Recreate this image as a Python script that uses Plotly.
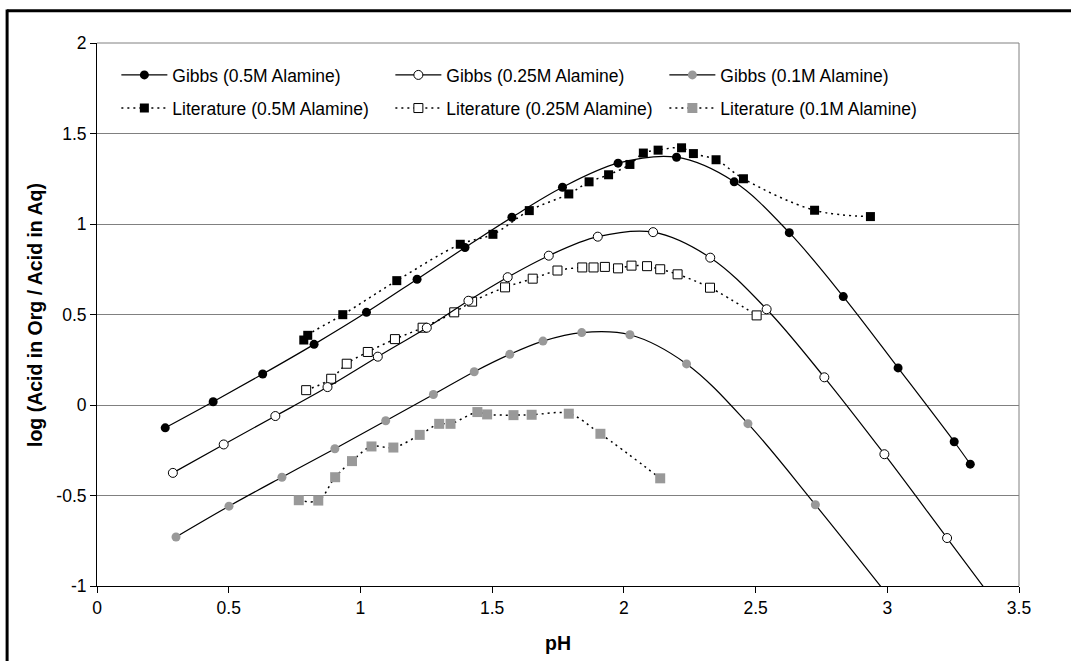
import plotly.graph_objects as go

# ---- data ----
gibbs_05_x = [0.259, 0.441, 0.629, 0.824, 1.023, 1.215, 1.397, 1.575, 1.767, 1.978, 2.200, 2.419, 2.628, 2.833, 3.041, 3.254, 3.315]
gibbs_05_y = [-0.126, 0.018, 0.171, 0.335, 0.512, 0.695, 0.870, 1.037, 1.203, 1.336, 1.369, 1.233, 0.952, 0.599, 0.205, -0.203, -0.327]

gibbs_025_x = [0.288, 0.481, 0.677, 0.875, 1.066, 1.252, 1.410, 1.559, 1.715, 1.901, 2.111, 2.328, 2.542, 2.761, 2.989, 3.227, 3.45]
gibbs_025_y = [-0.375, -0.218, -0.061, 0.099, 0.267, 0.427, 0.576, 0.706, 0.825, 0.930, 0.955, 0.814, 0.529, 0.153, -0.272, -0.735, -1.17]

gibbs_01_x = [0.300, 0.501, 0.702, 0.903, 1.096, 1.277, 1.432, 1.567, 1.693, 1.840, 2.023, 2.238, 2.471, 2.727, 3.05]
gibbs_01_y = [-0.729, -0.559, -0.399, -0.242, -0.087, 0.058, 0.184, 0.280, 0.353, 0.400, 0.388, 0.227, -0.103, -0.551, -1.14]

lit_05_x = [0.785, 0.800, 0.933, 1.138, 1.379, 1.503, 1.641, 1.791, 1.868, 1.942, 2.023, 2.074, 2.130, 2.219, 2.264, 2.350, 2.454, 2.724, 2.936]
lit_05_y = [0.359, 0.385, 0.499, 0.687, 0.888, 0.943, 1.074, 1.166, 1.233, 1.272, 1.329, 1.392, 1.408, 1.421, 1.389, 1.355, 1.250, 1.076, 1.041]

lit_025_x = [0.794, 0.889, 0.948, 1.028, 1.131, 1.236, 1.356, 1.424, 1.549, 1.654, 1.748, 1.842, 1.885, 1.928, 1.978, 2.029, 2.088, 2.138, 2.204, 2.327, 2.504]
lit_025_y = [0.082, 0.145, 0.228, 0.293, 0.364, 0.427, 0.512, 0.571, 0.650, 0.698, 0.743, 0.760, 0.760, 0.763, 0.755, 0.770, 0.767, 0.750, 0.722, 0.648, 0.495]

lit_01_x = [0.766, 0.840, 0.904, 0.968, 1.042, 1.125, 1.225, 1.299, 1.342, 1.444, 1.481, 1.581, 1.650, 1.791, 1.911, 2.138]
lit_01_y = [-0.526, -0.528, -0.399, -0.310, -0.229, -0.235, -0.165, -0.104, -0.104, -0.039, -0.052, -0.056, -0.054, -0.048, -0.159, -0.405]

x_ticks = [0, 0.5, 1, 1.5, 2, 2.5, 3, 3.5]
x_ticktext = ["0", "0.5", "1", "1.5", "2", "2.5", "3", "3.5"]
y_ticks = [-1, -0.5, 0, 0.5, 1, 1.5, 2]
y_ticktext = ["-1", "-0.5", "0", "0.5", "1", "1.5", "2"]

FONT = "Liberation Sans, Arial, sans-serif"
GRAY = "#999999"
GRID = "#808080"
FS = 17.5

fig = go.Figure()

def lit(x, y, name, fill, lw, size=9):
    fig.add_trace(go.Scatter(
        x=x, y=y, name=name, mode="lines+markers",
        line=dict(color="black", width=1.5, shape="spline", smoothing=1, dash="2px,4px"),
        marker=dict(symbol="square", size=size, color=fill, line=dict(color="black", width=lw)),
        legend="legend2", cliponaxis=True))

def gibbs(x, y, name, fill, lw):
    fig.add_trace(go.Scatter(
        x=x, y=y, name=name, mode="lines+markers",
        line=dict(color="black", width=1.2, shape="spline", smoothing=1),
        marker=dict(symbol="circle", size=9, color=fill, line=dict(color="black", width=lw)),
        legend="legend", cliponaxis=True))

lit(lit_05_x, lit_05_y, "Literature (0.5M Alamine)", "black", 0)
lit(lit_025_x, lit_025_y, "Literature (0.25M Alamine)", "white", 1)
lit(lit_01_x, lit_01_y, "Literature (0.1M Alamine)", GRAY, 0, 10)
gibbs(gibbs_05_x, gibbs_05_y, "Gibbs (0.5M Alamine)", "black", 0)
gibbs(gibbs_025_x, gibbs_025_y, "Gibbs (0.25M Alamine)", "white", 1)
gibbs(gibbs_01_x, gibbs_01_y, "Gibbs (0.1M Alamine)", GRAY, 0)

legend_common = dict(
    orientation="h", xanchor="left", yanchor="middle", x=0.021,
    entrywidth=213, entrywidthmode="pixels", itemwidth=46,
    font=dict(family=FONT, size=FS, color="black"),
    bgcolor="rgba(0,0,0,0)", borderwidth=0, traceorder="normal",
)

fig.update_layout(
    width=1071, height=661,
    margin=dict(l=97, r=52, t=43, b=75),
    paper_bgcolor="white", plot_bgcolor="white",
    font=dict(family=FONT, size=FS, color="black"),
    showlegend=True,
    legend=dict(**legend_common, y=0.941),
    legend2=dict(**legend_common, y=0.880),
    xaxis=dict(
        range=[0, 3.5], tickvals=x_ticks, ticktext=x_ticktext,
        ticks="outside", ticklen=6, tickcolor="black", tickwidth=1,
        showline=True, linecolor="black", linewidth=1,
        showgrid=False, zeroline=False,
        tickfont=dict(family=FONT, size=FS, color="black"),
    ),
    yaxis=dict(
        range=[-1, 2], tickvals=y_ticks, ticktext=y_ticktext,
        ticks="outside", ticklen=6, tickcolor="black", tickwidth=1,
        showline=True, linecolor="black", linewidth=1,
        showgrid=True, gridcolor=GRID, gridwidth=1, zeroline=False,
        tickfont=dict(family=FONT, size=FS, color="black"),
    ),
    annotations=[
        dict(text="<b>pH</b>", xref="paper", yref="paper", x=0.5, y=-0.105,
             xanchor="center", yanchor="middle", showarrow=False,
             font=dict(family=FONT, size=19.5, color="black")),
        dict(text="<b>log (Acid in Org / Acid in Aq)</b>", xref="paper", yref="paper",
             x=-0.0678, y=0.5, xanchor="center", yanchor="middle", textangle=-90,
             showarrow=False, font=dict(family=FONT, size=19.5, color="black")),
    ],
    shapes=[
        dict(type="line", xref="paper", yref="paper", x0=1, x1=1, y0=0, y1=1,
             line=dict(color=GRID, width=1)),
        dict(type="line", xref="paper", yref="paper", x0=0, x1=1, y0=1, y1=1,
             line=dict(color=GRID, width=1)),
        dict(type="line", xref="paper", yref="paper", x0=-0.0975, x1=-0.0975, y0=-0.25, y1=1.0615,
             line=dict(color="black", width=3)),
        dict(type="line", xref="paper", yref="paper", x0=-0.0975, x1=1.1, y0=1.0595, y1=1.0595,
             line=dict(color="black", width=3)),
    ],
)

fig.write_html("out.html", config={"displayModeBar": False},
               post_script="document.body.style.margin='0';")
